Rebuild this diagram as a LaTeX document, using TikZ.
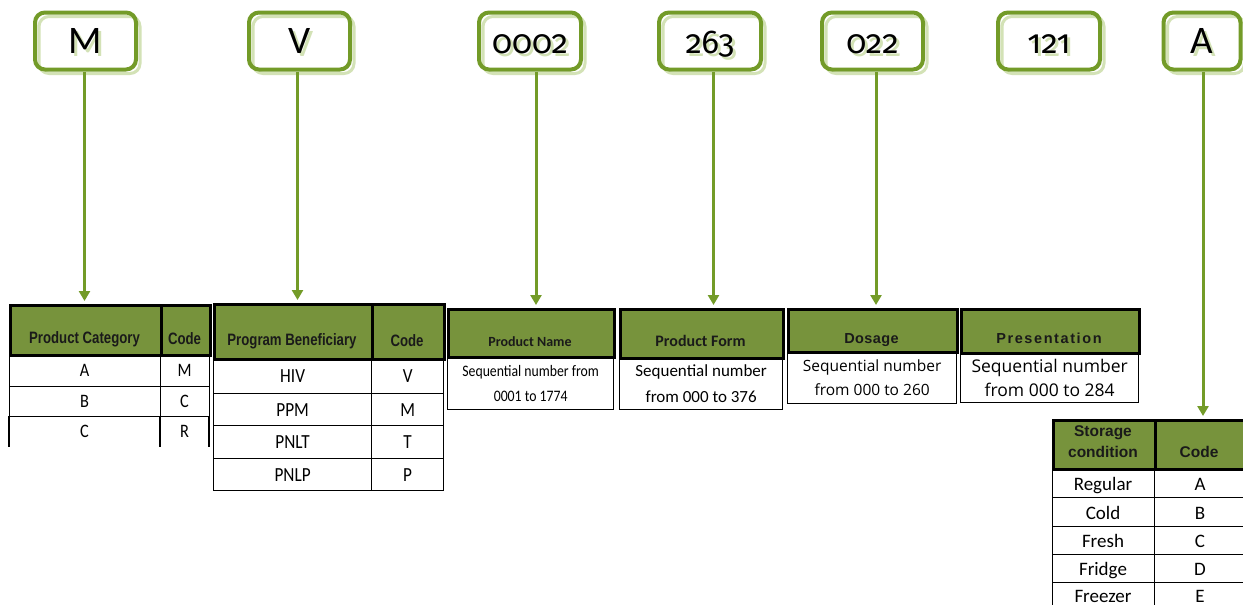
\documentclass[tikz,border=0pt]{standalone}
\usepackage{fontspec}
\usetikzlibrary{arrows.meta,calc}
\setmainfont{Carlito}
\newfontfamily\calold[Numbers=OldStyle]{Fira Sans}
\newfontfamily\calnarrow[FakeStretch=0.86]{Carlito}
\newfontfamily\hdrnarrow[FakeStretch=0.80]{Liberation Sans}
\newfontfamily\arialf{Liberation Sans}
\newfontfamily\arialsp[LetterSpace=11]{Liberation Sans}
\newfontfamily\arialsq[LetterSpace=2.5]{Liberation Sans}
\newfontfamily\opensf{Open Sans}
\definecolor{boxgreen}{HTML}{739B28}
\definecolor{shadegreen}{HTML}{D3E2B6}
\definecolor{hdrfill}{HTML}{77933C}
\definecolor{hdrtext}{HTML}{1A1A1A}
\tikzset{
  topbox/.style={draw=boxgreen, line width=4pt, rounded corners=10pt, minimum height=57pt, inner sep=0pt},
  boxshade/.style={draw=shadegreen, line width=3pt, rounded corners=10pt, minimum height=57pt, inner sep=0pt},
  bigtxt/.style={anchor=base, inner sep=0pt, text=black},
  hdr/.style={draw=black, fill=hdrfill, line width=3pt, anchor=north west, inner sep=0pt},
  cell/.style={draw=black, line width=1.3pt, anchor=north west, inner sep=0pt},
  htxt/.style={text=hdrtext, inner sep=0pt, align=center},
  btxt/.style={text=black, inner sep=0pt, align=center},
  arr/.style={draw=boxgreen, line width=3pt, shorten >=3pt, -{Triangle[width=11pt,length=10pt]}},
}
\newcommand{\shadowed}[1]{\rlap{\kern3pt\raisebox{-3pt}{\color{shadegreen}#1}}#1}
\newcommand{\codebox}[5]{%
  \node[boxshade, minimum width=#3pt] at ($(#2,41)+(4,4)$) {};
  \node[topbox, minimum width=#3pt] (#1) at (#2,41) {};
  \node[bigtxt, font=#4] (#1t) at (#2,53) {\shadowed{#5}};
}
\begin{document}
\begin{tikzpicture}[x=1pt,y=-1pt]
\useasboundingbox (0,0) rectangle (1243,605);
\fill[white] (0,0) rectangle (1243,605);

% ---------- top code boxes ----------
\codebox{bM}{85.5}{101}{\fontsize{39}{40}\selectfont}{M}
\codebox{bV}{299.5}{101}{\fontsize{39}{40}\selectfont}{V}
\codebox{bN}{530}{102}{\calold\fontsize{33}{40}\selectfont}{0002}
\codebox{bF}{710}{102}{\calold\fontsize{33}{40}\selectfont}{263}
\codebox{bD}{872.5}{101}{\calold\fontsize{33}{40}\selectfont}{022}
\codebox{bP}{1049}{102}{\calold\fontsize{33}{40}\selectfont}{121}
\codebox{bA}{1202}{77}{\fontsize{39}{40}\selectfont}{A}

% ---------- Table 1: Product Category ----------
\node[hdr, minimum width=151pt, minimum height=50pt] (h1a) at (9,304) {};
\node[hdr, minimum width=49pt, minimum height=50pt] (h1b) at (160,304) {};
\node[htxt, font=\hdrnarrow\bfseries\fontsize{16.5}{17}\selectfont] (h1at) at (84.5,339) {Product Category};
\node[htxt, font=\hdrnarrow\bfseries\fontsize{16.5}{17}\selectfont] (h1bt) at (184.5,339) {Code};
\node[cell, minimum width=151pt, minimum height=32pt] (c11) at (9,354) {};
\node[cell, minimum width=49pt, minimum height=32pt] (c12) at (160,354) {};
\node[cell, minimum width=151pt, minimum height=30pt] (c21) at (9,386) {};
\node[cell, minimum width=49pt, minimum height=30pt] (c22) at (160,386) {};
\draw[line width=1.3pt] (9,416) -- (9,447) (160,416) -- (160,447) (209,416) -- (209,447);
\foreach \t/\c/\y in {A/M/370, B/C/401, C/R/431}{
  \node[btxt, font=\calnarrow\fontsize{19}{19}\selectfont] at (84.5,\y) {\t};
  \node[btxt, font=\calnarrow\fontsize{19}{19}\selectfont] at (184.5,\y) {\c};
}

% ---------- Table 2: Program Beneficiary ----------
\node[hdr, minimum width=158pt, minimum height=55pt] (h2a) at (213,303) {};
\node[hdr, minimum width=72pt, minimum height=55pt] (h2b) at (371,303) {};
\node[htxt, font=\hdrnarrow\bfseries\fontsize{16.5}{17}\selectfont] (h2at) at (292,341) {Program Beneficiary};
\node[htxt, font=\hdrnarrow\bfseries\fontsize{16.5}{17}\selectfont] (h2bt) at (407,341) {Code};
\foreach \t/\c/\y/\h [count=\i] in {HIV/V/358/35, PPM/M/393/32, PNLT/T/425/33, PNLP/P/458/32}{
  \node[cell, minimum width=158pt, minimum height=\h pt] (r2\i a) at (213,\y) {};
  \node[cell, minimum width=72pt, minimum height=\h pt] (r2\i b) at (371,\y) {};
  \node[btxt, font=\calnarrow\fontsize{20}{20}\selectfont] at (r2\i a.center) {\t};
  \node[btxt, font=\calnarrow\fontsize{20}{20}\selectfont] at (r2\i b.center) {\c};
}

% ---------- Table 3: Product Name ----------
\node[hdr, minimum width=166pt, minimum height=48pt] (h3) at (447,308) {};
\node[htxt, font=\bfseries\fontsize{14}{15}\selectfont] (h3t) at (530,342) {Product Name};
\node[cell, minimum width=166pt, minimum height=53pt] (c3) at (447,356) {};
\node[btxt, font=\calnarrow\fontsize{16}{25}\selectfont] (c3t) at (c3.center) {Sequential number from\\0001 to 1774};

% ---------- Table 4: Product Form ----------
\node[hdr, minimum width=163pt, minimum height=49pt] (h4) at (619,308) {};
\node[htxt, font=\bfseries\fontsize{16}{17}\selectfont] (h4t) at (700.5,341) {Product Form};
\node[cell, minimum width=163pt, minimum height=52pt] (c4) at (619,357) {};
\node[btxt, font=\fontsize{17}{26}\selectfont] (c4t) at (c4.center) {Sequential number\\from 000 to 376};

% ---------- Table 5: Dosage ----------
\node[hdr, minimum width=169pt, minimum height=43pt] (h5) at (787,308) {};
\node[htxt, font=\arialsq\bfseries\fontsize{14.5}{15}\selectfont] (h5t) at (871.5,340) {Dosage};
\node[cell, minimum width=169pt, minimum height=52pt] (c5) at (787,351) {};
\node[btxt, font=\opensf\fontsize{15.5}{24}\selectfont] (c5t) at (c5.center) {Sequential number\\from 000 to 260};

% ---------- Table 6: Presentation ----------
\node[hdr, minimum width=178pt, minimum height=44pt] (h6) at (960,308) {};
\node[htxt, font=\arialsp\bfseries\fontsize{14.5}{15}\selectfont] (h6t) at (1049,338) {Presentation};
\node[cell, minimum width=178pt, minimum height=50pt] (c6) at (960,352) {};
\node[btxt, font=\opensf\fontsize{17.5}{24}\selectfont] (c6t) at (c6.center) {Sequential number\\from 000 to 284};

% ---------- Table 7: Storage condition ----------
\node[hdr, minimum width=102pt, minimum height=49pt] (h7a) at (1052,419) {};
\node[hdr, minimum width=90pt, minimum height=49pt] (h7b) at (1154,419) {};
\node[htxt, font=\arialf\bfseries\fontsize{15.5}{21}\selectfont] (h7at) at (1103,442) {Storage\\condition};
\node[htxt, font=\arialf\bfseries\fontsize{15.5}{16}\selectfont] (h7bt) at (1199,452) {Code};
\foreach \t/\c/\y/\h/\b [count=\i] in {Regular/A/468/29/490, Cold/B/497/29/519, Fresh/C/526/28/547, Fridge/D/554/28/575, Freezer/E/582/28/602}{
  \node[cell, minimum width=102pt, minimum height=\h pt] (r7\i a) at (1052,\y) {};
  \node[cell, minimum width=90pt, minimum height=\h pt] (r7\i b) at (1154,\y) {};
  \node[btxt, anchor=base, font=\fontsize{19}{20}\selectfont] at (1103,\b) {\t};
  \node[btxt, anchor=base, font=\fontsize{19}{20}\selectfont] at (1200,\b) {\c};
}

% ---------- connectors ----------
\draw[arr] ([xshift=-1pt]bM.south) -- ([xshift=-1pt]bM.south |- h1a.north);
\draw[arr] ([xshift=-2pt]bV.south) -- ([xshift=-2pt]bV.south |- h2a.north);
\draw[arr] ([xshift=6pt]bN.south) -- ([xshift=6pt]bN.south |- h3.north);
\draw[arr] ([xshift=3.5pt]bF.south) -- ([xshift=3.5pt]bF.south |- h4.north);
\draw[arr] ([xshift=3.5pt]bD.south) -- ([xshift=3.5pt]bD.south |- h5.north);
\draw[arr] ([xshift=1pt]bA.south) -- ([xshift=1pt]bA.south |- h7b.north);
\end{tikzpicture}
\end{document}
